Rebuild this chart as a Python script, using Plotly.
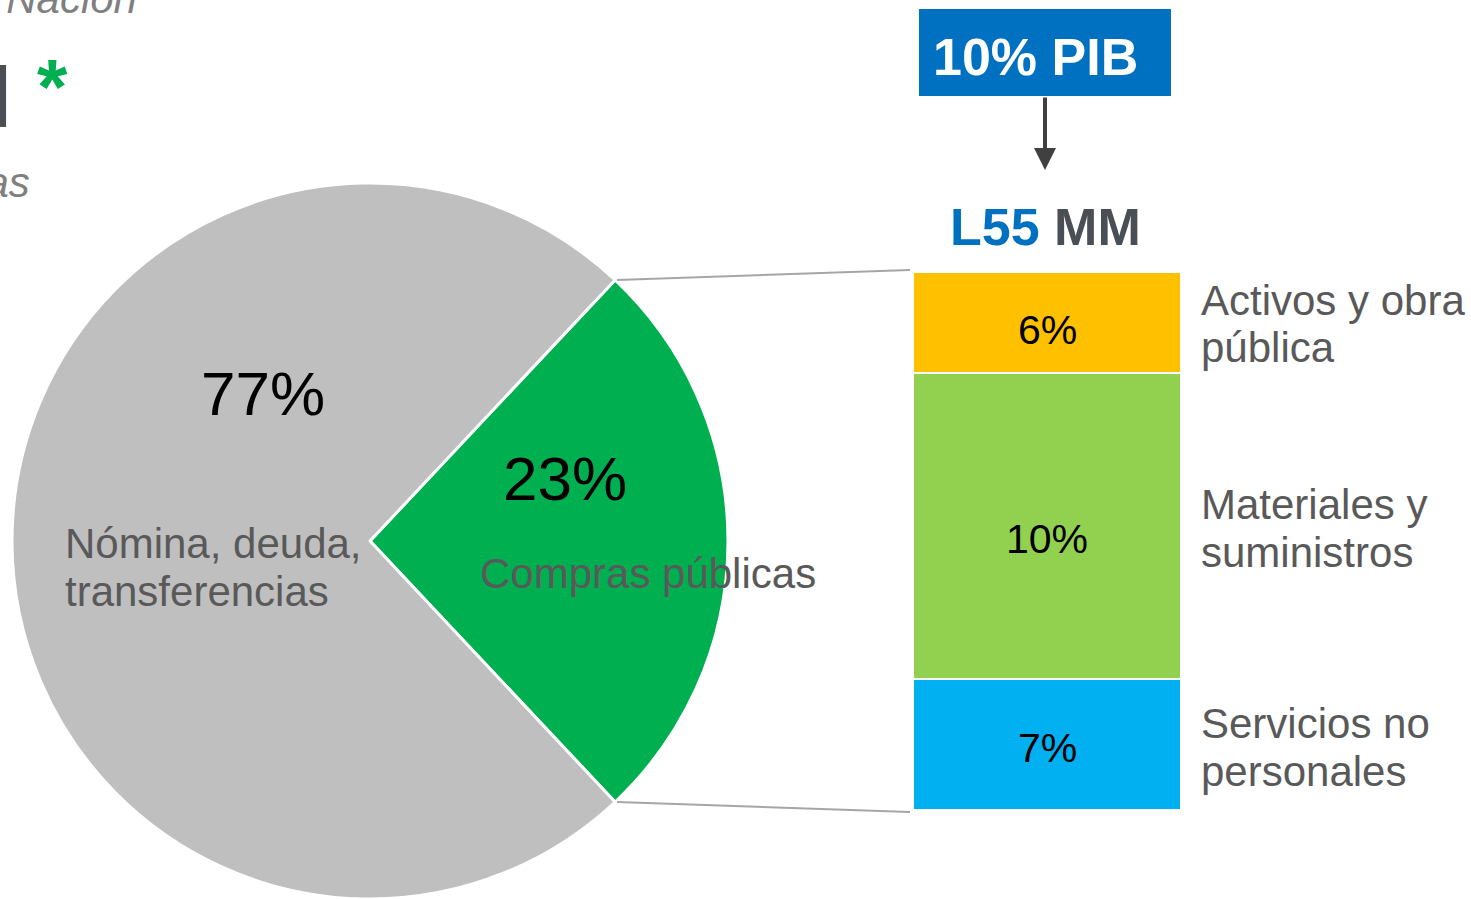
import math
import plotly.graph_objects as go

# ---------------- data ----------------
pie_names = ["Compras públicas", "Nómina, deuda, transferencias"]
pie_shares_drawn = [26, 74]          # slice sizes as drawn in the picture
pie_text = ["23%", "77%"]            # printed labels
pie_colors = ["#00B050", "#BFBFBF"]

bar_category = "Compras públicas"
bar_names = ["Servicios no personales", "Materiales y suministros", "Activos y obra pública"]
bar_heights_drawn = [5.6, 13.1, 4.3]  # segment heights as drawn (stack bottom -> top)
bar_text = ["7%", "10%", "6%"]
bar_colors = ["#00B0F0", "#92D050", "#FFC000"]
bar_side_lines = [["Servicios no", "personales"], ["Materiales y", "suministros"], ["Activos y obra", "pública"]]

header_box_text = "10% PIB"
amount_blue, amount_gray = "L55", "MM"

W, H = 1471, 899
FONT = "Liberation Sans, Arial, sans-serif"
GRAY_TXT = "#595959"

def px(x):
    return x / W

def py(y):
    return 1 - y / H

fig = go.Figure()

# ---------------- pie ----------------
pie_cx, pie_cy, pie_r = 370, 541, 358
rotation = 90 - pie_shares_drawn[0] / sum(pie_shares_drawn) * 360 / 2
fig.add_trace(go.Pie(
    labels=pie_names, values=pie_shares_drawn, sort=False, direction="clockwise",
    rotation=rotation,
    marker=dict(colors=pie_colors, line=dict(color="white", width=3)),
    textinfo="none", hoverinfo="label+value", showlegend=False,
    domain=dict(x=[px(pie_cx - pie_r), px(pie_cx + pie_r)], y=[py(pie_cy + pie_r), py(pie_cy - pie_r)]),
))

# ---------------- stacked bar ----------------
bar_left, bar_right, bar_top, bar_bottom = 913, 1181, 272, 810
for name, h, c in zip(bar_names, bar_heights_drawn, bar_colors):
    fig.add_trace(go.Bar(
        x=[bar_category], y=[h], name=name,
        marker=dict(color=c, line=dict(color="white", width=2.5)),
        xaxis="x", yaxis="y", showlegend=False, hoverinfo="name+y",
    ))

fig.update_layout(
    barmode="stack", bargap=0,
    xaxis=dict(domain=[px(bar_left), px(bar_right)], visible=False, fixedrange=True),
    yaxis=dict(domain=[py(bar_bottom), py(bar_top)], range=[0, sum(bar_heights_drawn)],
               visible=False, fixedrange=True),
)

annotations = []
shapes = []

def text_at(x, baseline, txt, size, color=GRAY_TXT, anchor="left", bold=False, italic=False, xref="paper"):
    annotations.append(dict(
        x=px(x) if xref == "paper" else x, y=py(baseline - 0.35 * size), xref=xref, yref="paper",
        text=txt, showarrow=False, xanchor=anchor, yanchor="middle",
        font=dict(family=FONT, size=size, color=color,
                  weight="bold" if bold else "normal",
                  style="italic" if italic else "normal"),
    ))

# segment labels inside the bar
seg_baselines = [762, 553, 344]
for t, bl in zip(bar_text, seg_baselines):
    text_at(bar_category, bl, t, 41, "black", "center", xref="x")

# pie labels
text_at(263, 415, pie_text[1], 62, "black", "center")
text_at(63, 558, "Nómina, deuda,", 42)
text_at(63, 606, "transferencias", 42)
text_at(565, 500, pie_text[0], 62, "black", "center")
text_at(478, 588, pie_names[0], 42)

# side labels for bar segments
side_baselines = [[738, 786], [519, 567], [315, 362]]
for lines, bls in zip(bar_side_lines, side_baselines):
    for ln, bl in zip(lines, bls):
        text_at(1199, bl, ln, 42)

# connector lines from pie slice edges to the bar
tot = sum(pie_shares_drawn)
a0 = math.radians(rotation)
a1 = math.radians(rotation + pie_shares_drawn[0] / tot * 360)
for a, yb in [(a0, bar_top - 2), (a1, bar_bottom + 2)]:
    vx = pie_cx + pie_r * math.sin(a)
    vy = pie_cy - pie_r * math.cos(a)
    shapes.append(dict(type="line", xref="paper", yref="paper",
                       x0=px(vx + 2), y0=py(vy), x1=px(bar_left - 3), y1=py(yb),
                       line=dict(color="#A6A6A6", width=2)))

# header box
shapes.append(dict(type="rect", xref="paper", yref="paper",
                   x0=px(919), x1=px(1171), y0=py(96), y1=py(9),
                   fillcolor="#0070C0", line=dict(width=0)))
text_at(1035, 75, header_box_text, 52, "white", "center", bold=True)

# arrow
annotations.append(dict(x=px(1045), y=py(170), xref="paper", yref="paper",
                        ax=0, ay=-74, text="", showarrow=True, arrowhead=2,
                        arrowsize=1.1, arrowwidth=4, arrowcolor="#404040"))

# amount title
annotations.append(dict(
    x=px(1045), y=py(245 - 0.35 * 52), xref="paper", yref="paper", showarrow=False,
    xanchor="center", yanchor="middle",
    text=f"<span style='color:#0070C0'>{amount_blue}</span> <span style='color:#4A4F55'>{amount_gray}</span>",
    font=dict(family=FONT, size=52, weight="bold"),
))

# partially visible slide texts at top-left
text_at(139, 13, "Presupuesto de la Nación", 42, "#808080", "right", italic=True)
text_at(14, 127, "Gasto total", 86, "#4A4F55", "right", bold=True)
text_at(32, 197, "Cifras aprobadas", 42, "#808080", "right", italic=True)
text_at(52, 114, "*", 78, "#00B050", "center", bold=True)

fig.update_layout(
    width=W, height=H, margin=dict(l=0, r=0, t=0, b=0),
    paper_bgcolor="white", plot_bgcolor="white",
    annotations=annotations, shapes=shapes, showlegend=False,
    font=dict(family=FONT),
)

fig.write_html("out.html", config={"displayModeBar": False},
               post_script="document.body.style.margin='0';")
